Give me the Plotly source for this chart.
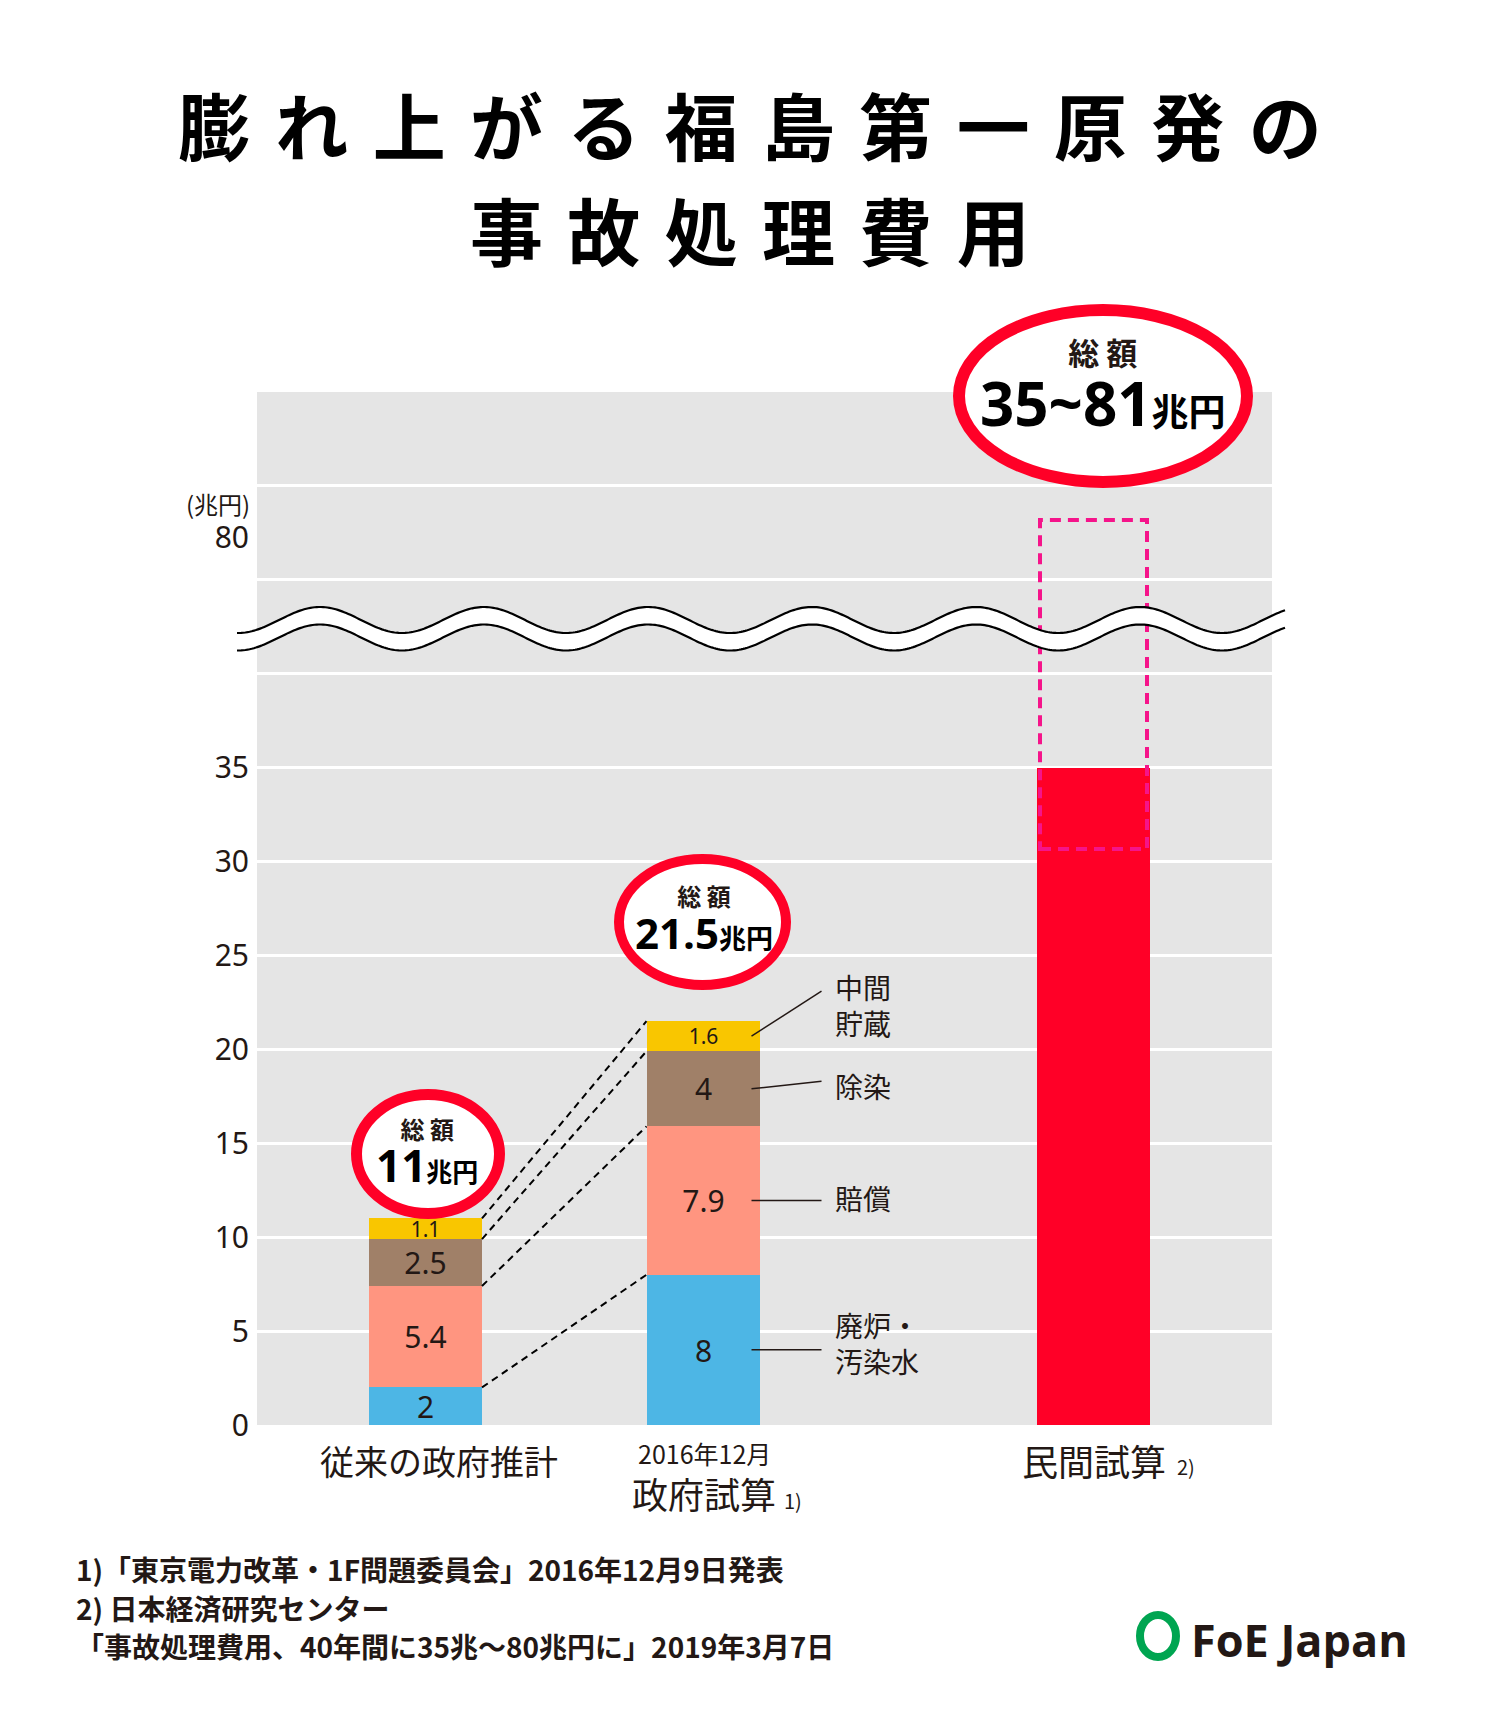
import numpy as np
import plotly.graph_objects as go

# ---------------- data ----------------
categories = ["従来の政府推計", "2016年12月", "民間試算"]
category_sub = ["", "政府試算", ""]
footnote_marks = ["", "1)", "2)"]
segment_names = ["廃炉・<br>汚染水", "賠償", "除染", "中間<br>貯蔵"]
old_estimate = [2, 5.4, 2.5, 1.1]          # 従来の政府推計
gov_2016 = [8, 7.9, 4, 1.6]                # 2016年12月 政府試算
private_low = 35                           # 民間試算 (下限)
private_high = 81                          # 民間試算 (上限)
totals = ["11", "21.5", "35~81"]
y_tick_values = [0, 5, 10, 15, 20, 25, 30, 35]
y_break_value = 80
footnotes = [
    "1)「東京電力改革・1F問題委員会」2016年12月9日発表",
    "2) 日本経済研究センター",
    "「事故処理費用、40年間に35兆～80兆円に」2019年3月7日",
]
title_lines = ["膨れ上がる福島第一原発の", "事故処理費用"]

# ---------------- layout constants ----------------
W, H = 1500, 1724
PL, PR, PT, PB = 257, 1272, 392, 1425
Y_MAX = 55.0
seg_colors = ["#4DB6E5", "#FF9580", "#A08068", "#F9C600"]
RED = "#FF0027"
PINK = "#F5148A"
INK = "#231815"
JP = "Noto Sans CJK JP"
NUM = "Noto Sans, Noto Sans CJK JP"
BOLDNUM = "Open Sans, Noto Sans CJK JP"


def dx(px):
    return px - PL


def dy(py):
    return (PB - py) / (PB - PT) * Y_MAX


def fx(px):
    return (px - PL) / (PR - PL)


def fy(py):
    return (PB - py) / (PB - PT)


# broken-axis position for values above the break
BREAK_POS = dy(537)
BREAK_SCALE = 0.9


def ypos(v):
    return BREAK_POS + (v - y_break_value) * BREAK_SCALE if v >= y_break_value else v


BAR_X = [dx(425.5), dx(703), dx(1093.5)]
BAR_W = 113

fig = go.Figure()

# stacked bars
for i in range(4):
    fig.add_trace(go.Bar(
        x=[BAR_X[0], BAR_X[1]], y=[old_estimate[i], gov_2016[i]],
        width=BAR_W, marker=dict(color=seg_colors[i], line=dict(width=0)),
        text=[f"{old_estimate[i]:g}", f"{gov_2016[i]:g}"],
        textposition="inside", insidetextanchor="middle", textangle=0,
        constraintext="none",
        textfont=dict(family=NUM, size=21 if i == 3 else 30, color=INK),
        hoverinfo="skip", showlegend=False,
    ))
fig.add_trace(go.Bar(
    x=[BAR_X[2]], y=[private_low], width=BAR_W,
    marker=dict(color=RED, line=dict(width=0)), hoverinfo="skip", showlegend=False,
))

# connector dashed lines between the two stacked bars
cum_old = np.cumsum(old_estimate)
cum_gov = np.cumsum(gov_2016)
for i in range(4):
    fig.add_trace(go.Scatter(
        x=[BAR_X[0] + BAR_W / 2, BAR_X[1] - BAR_W / 2], y=[cum_old[i], cum_gov[i]],
        mode="lines", line=dict(color="black", width=2, dash="7px,5px"),
        hoverinfo="skip", showlegend=False,
    ))

shapes = []
annotations = []


def ann(**kw):
    d = dict(showarrow=False, xanchor="center", yanchor="middle")
    d.update(kw)
    annotations.append(d)


# dashed outline: range up to 81
shapes.append(dict(
    type="rect", xref="x", yref="y", layer="above",
    x0=BAR_X[2] - BAR_W / 2 + 3, x1=BAR_X[2] + BAR_W / 2 - 3,
    y0=dy(849), y1=ypos(private_high),
    line=dict(color=PINK, width=4, dash="11px,7px"),
))

# leader lines + segment names for the 2016 bar
cum_prev = np.concatenate([[0], cum_gov[:-1]])
lead_rise = [0, 0, 0.4, 2.4]
label_py = [1343, 1198, 1086, 1005]
for i in range(4):
    yc = cum_prev[i] + gov_2016[i] / 2
    x0 = BAR_X[1] + BAR_W / 2 - 8
    shapes.append(dict(type="line", xref="x", yref="y", layer="above",
                       x0=x0, x1=x0 + 70, y0=yc, y1=yc + lead_rise[i],
                       line=dict(color=INK, width=1.5)))
    ann(x=dx(833), y=dy(label_py[i]), xref="x", yref="y", xanchor="left",
        text=segment_names[i], align="left",
        font=dict(family=JP, size=28, color=INK))

# axis break wave
xs = np.linspace(237, 1285, 500)
upper = 620 - 13 * np.cos(2 * np.pi * (xs - 320) / 164)
lower = upper + 17.5


def path(xv, yv):
    return "M " + " L ".join(f"{fx(a):.5f},{fy(b):.5f}" for a, b in zip(xv, yv))


band = path(np.concatenate([xs, xs[::-1]]), np.concatenate([upper, lower[::-1]])) + " Z"
shapes.append(dict(type="path", xref="paper", yref="paper", path=band, layer="above",
                   fillcolor="white", line=dict(width=0)))
for yy in (upper, lower):
    shapes.append(dict(type="path", xref="paper", yref="paper", path=path(xs, yy), layer="above",
                       line=dict(color="black", width=2.2)))

# total callout ellipses
ellipses = [(356.5, 499.5, 1094.5, 1213.5, 11), (619, 786, 859, 985, 10), (959, 1247, 310, 482, 12)]
for x0, x1, y0, y1, lw in ellipses:
    shapes.append(dict(type="circle", xref="paper", yref="paper", layer="above",
                       x0=fx(x0), x1=fx(x1), y0=fy(y0), y1=fy(y1),
                       fillcolor="white", line=dict(color=RED, width=lw)))

callout_text = [  # (cx, block centre y, base size, label size, number size, unit size)
    (427, 1153, 33, 24, 44, 26),
    (704, 919, 33, 24, 42, 27),
    (1103, 386, 47, 31, 60, 37),
]
for tot, (cx, cy, bs, ls, ns, us) in zip(totals, callout_text):
    ann(x=fx(cx), y=fy(cy), xref="paper", yref="paper",
        text=(f"<b><span style='font-family:{JP};font-size:{ls}px;color:{INK}'>総 額</span></b><br>"
              f"<b><span style='font-size:{ns}px'>{tot}</span>"
              f"<span style='font-size:{us}px'>兆円</span></b>"),
        font=dict(family=BOLDNUM, size=bs, color="black"))

# y-axis unit
ann(x=fx(252), y=fy(503), xref="paper", yref="paper", xanchor="right",
    text="(兆円)", font=dict(family=JP, size=24, color=INK))

# category labels
ann(x=dx(439), y=fy(1460), xref="x", yref="paper", text=categories[0],
    font=dict(family=JP, size=34, color=INK))
ann(x=dx(704), y=fy(1453), xref="x", yref="paper", text=categories[1],
    font=dict(family=JP, size=25, color=INK))
ann(x=dx(704), y=fy(1493), xref="x", yref="paper", text=category_sub[1],
    font=dict(family=JP, size=36, color=INK))
ann(x=dx(793), y=fy(1500), xref="x", yref="paper", text=footnote_marks[1],
    font=dict(family=JP, size=20, color=INK))
ann(x=dx(1093.5), y=fy(1460), xref="x", yref="paper", text=categories[2],
    font=dict(family=JP, size=36, color=INK))
ann(x=dx(1186), y=fy(1466), xref="x", yref="paper", text=footnote_marks[2],
    font=dict(family=JP, size=20, color=INK))

# title
for line, py in zip(title_lines, (123, 228)):
    ann(x=fx(W / 2), y=fy(py), xref="paper", yref="paper",
        text="<b>" + "\u2004".join(line) + "</b>",
        font=dict(family=JP, size=73, color="black"))

# footnotes
for t, py in zip(footnotes, (1569, 1608, 1646)):
    ann(x=fx(74), y=fy(py), xref="paper", yref="paper", xanchor="left",
        text="<b>" + t + "</b>", font=dict(family=JP, size=28, color=INK))

# FoE Japan logo
shapes.append(dict(type="circle", xref="paper", yref="paper", layer="above",
                   x0=fx(1140), x1=fx(1176), y0=fy(1615), y1=fy(1657),
                   line=dict(color="#00A551", width=8)))
ann(x=fx(1189), y=fy(1639), xref="paper", yref="paper", xanchor="left",
    text="<b>FoE Japan</b>", font=dict(family="Open Sans", size=45, color=INK))

fig.update_layout(
    width=W, height=H, barmode="stack", bargap=0,
    margin=dict(l=PL, r=W - PR, t=PT, b=H - PB, pad=0),
    paper_bgcolor="white", plot_bgcolor="#E5E5E5",
    xaxis=dict(range=[0, PR - PL], showgrid=False, zeroline=False, showticklabels=False,
               ticks="", fixedrange=True),
    yaxis=dict(range=[0, Y_MAX], showgrid=False, zeroline=False,
               tickmode="array",
               tickvals=y_tick_values + [ypos(y_break_value)],
               ticktext=[str(v) for v in y_tick_values] + [str(y_break_value)],
               tickfont=dict(family=NUM, size=30, color=INK), ticks="", ticklabelstandoff=7,
               minor=dict(tickvals=list(range(5, 55, 5)), showgrid=True,
                          gridcolor="white", gridwidth=3, ticks="")),
    shapes=shapes, annotations=annotations,
)

fig.write_html("out.html", config={"displayModeBar": False},
               post_script="document.body.style.margin='0px';")
